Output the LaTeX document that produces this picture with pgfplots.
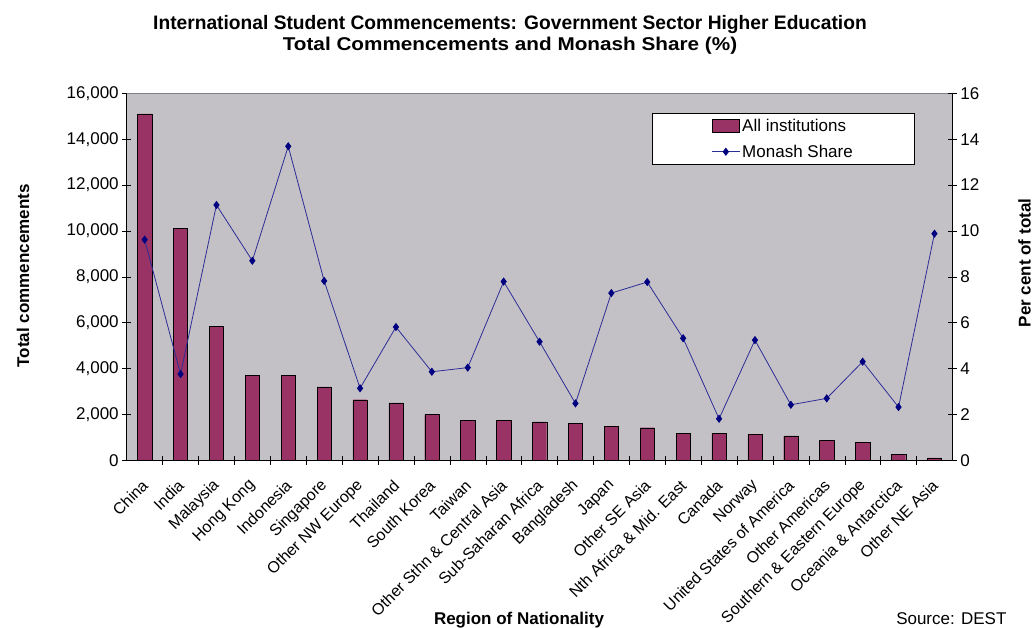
\documentclass[border=0pt]{standalone}
\usepackage{pgfplots}
\usepackage{pgfplotstable}
\pgfplotsset{compat=1.18}
\usepackage{fontspec}
\setmainfont{Liberation Sans}
\definecolor{plotgray}{RGB}{195,193,198}
\definecolor{barfill}{RGB}{153,51,102}
\definecolor{navy}{RGB}{0,0,128}
\definecolor{linecol}{RGB}{45,45,150}
\definecolor{topgray}{RGB}{128,128,128}
\pgfplotsset{
  mylinelegend/.style={legend image code/.code={\draw[##1, mark repeat=2, mark phase=2] plot coordinates {(0pt,0pt)(14pt,0pt)(28pt,0pt)};}},
  mybarlegend/.style={legend image code/.code={\draw[fill=barfill,draw=black] (0pt,-6.5pt) rectangle (27pt,6.5pt);}},
}

\pgfplotstableread{
idx val share
0 15100 9.62
1 10100 3.76
2 5840 11.13
3 3700 8.70
4 3700 13.69
5 3200 7.82
6 2640 3.14
7 2500 5.81
8 1990 3.86
9 1730 4.04
10 1730 7.79
11 1680 5.17
12 1600 2.48
13 1480 7.29
14 1420 7.77
15 1180 5.32
16 1180 1.81
17 1120 5.24
18 1060 2.42
19 870 2.70
20 770 4.30
21 260 2.32
22 110 9.88
}\data

\begin{document}
\begin{tikzpicture}[font=\fontsize{17}{20}\selectfont]
\useasboundingbox (-126.7pt,-167.7pt) rectangle (907.3pt,460.3pt);
\begin{axis}[at={(0pt,0pt)}, anchor=south west, scale only axis,
  width=825.7pt, height=367pt,
  xmin=-0.5, xmax=22.5, ymin=0, ymax=16000,
  axis y line*=left, axis x line*=bottom, axis line style={-, black},
  axis background/.style={fill=plotgray},
  ytick={0,2000,...,16000},
  yticklabel style={/pgf/number format/.cd, fixed, precision=0, 1000 sep={,}, assume math mode=true},
  scaled y ticks=false,
  xtick={0,...,22},
  xticklabels={China,India,Malaysia,Hong Kong,Indonesia,Singapore,Other NW Europe,Thailand,South Korea,Taiwan,Other Sthn \& Central Asia,Sub-Saharan Africa,Bangladesh,Japan,Other SE Asia,Nth Africa \& Mid. East,Canada,Norway,United States of America,Other Americas,Southern \& Eastern Europe,Oceania \& Antarctica,Other NE Asia},
  x tick label style={rotate=45, anchor=east, font=\fontsize{16}{19}\selectfont, xshift=-9pt, yshift=-13pt},
  major x tick style={draw=none},
  minor xtick={0.5,1.5,...,21.5},
  minor tick length=9pt,
  major tick length=9pt,
  tick align=center,
  tick style={black, thin},
]
\addplot[ybar, bar width=14.3pt, fill=barfill, draw=black] table[x=idx, y=val]{\data};
\draw[topgray] (rel axis cs:0,1) -- (rel axis cs:1,1);
\end{axis}
\begin{axis}[at={(0pt,0pt)}, anchor=south west, scale only axis,
  width=825.7pt, height=367pt,
  xmin=-0.5, xmax=22.5, ymin=0, ymax=16,
  axis y line*=right, axis x line=none, axis line style={-, black},
  ytick={0,2,...,16},
  yticklabel style={/pgf/number format/assume math mode=true},
  major tick length=9pt, tick align=center, tick style={black, thin},
  legend style={at={(0.9535,0.9455)}, anchor=north east, draw=black, fill=white,
    inner xsep=59pt, inner ysep=3.5pt, row sep=8pt, font=\fontsize{17}{20}\selectfont},
  legend cell align=left,
]
\addlegendimage{mybarlegend}
\addlegendentry{All institutions}
\addplot[linecol, line width=0.8pt, mark=diamond*, mark size=3.5pt, mark options={navy, fill=navy}, mylinelegend]
  table[x=idx, y=share]{\data};
\addlegendentry{Monash Share}
\end{axis}
\node[font=\bfseries\fontsize{19.5}{22}\selectfont, anchor=base, xscale=0.985] at (383.3pt,431pt)
  {International Student Commencements: Government Sector Higher Education};
\node[font=\bfseries\fontsize{18.5}{22}\selectfont, anchor=base, xscale=1.12] at (383.3pt,409.6pt)
  {Total Commencements and Monash Share (\%)};
\node[font=\bfseries\fontsize{17}{20}\selectfont, rotate=90] at (-103.7pt,184.5pt) {Total commencements};
\node[font=\bfseries\fontsize{17}{20}\selectfont, rotate=90] at (897.8pt,197.3pt) {Per cent of total};
\node[font=\bfseries\fontsize{17}{20}\selectfont] at (392.3pt,-159.7pt) {Region of Nationality};
\node[anchor=east] at (883.3pt,-158.7pt) {Source: DEST};
\end{tikzpicture}
\end{document}
